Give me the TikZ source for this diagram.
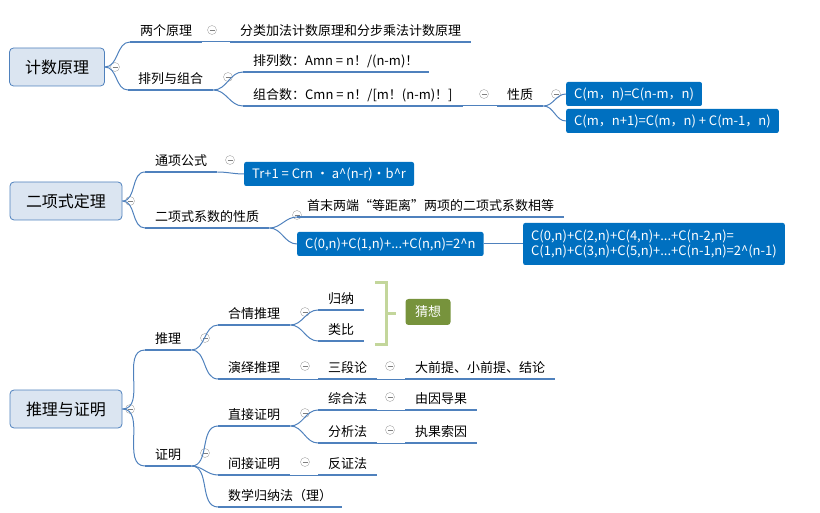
\documentclass[tikz,border=0pt]{standalone}
\usepackage{fontspec}
\setmainfont{Noto Sans CJK SC}
\definecolor{lineblue}{RGB}{79,129,189}
\definecolor{rootfill}{RGB}{219,229,241}
\definecolor{boxblue}{RGB}{0,112,192}
\definecolor{guessgreen}{RGB}{119,147,60}
\definecolor{bracketgreen}{RGB}{195,214,155}
\tikzset{
  rootbox/.style={draw=lineblue, fill=rootfill, thick, rounded corners=4pt, minimum height=38pt, font=\fontsize{16}{18}\selectfont},
  topic/.style={anchor=south west, inner xsep=10pt, inner ysep=3pt, text height=9pt, text depth=3pt, font=\fontsize{13}{15}\selectfont,
    append after command={(\tikzlastnode.south west) edge[uline] (\tikzlastnode.south east)}},
  uline/.style={draw=lineblue, line width=1.6pt},
  link/.style={draw=lineblue, line width=1pt},
  bbox/.style={anchor=west, fill=boxblue, text=white, rounded corners=2pt, inner xsep=8pt, minimum height=24pt, font=\fontsize{13}{15}\selectfont},
  fold/.style={circle, draw=gray!70, fill=white, minimum size=9pt, inner sep=0pt,
    path picture={\draw[gray] ([xshift=-2.5pt]path picture bounding box.center) -- ([xshift=2.5pt]path picture bounding box.center);}}
}
\begin{document}
\begin{tikzpicture}[x=1pt,y=-1pt]
\useasboundingbox (0,0) rectangle (820,513);

% counting
\node[rootbox, minimum width=95pt] (jishu) at (57,67) {计数原理};
\node[fold] (f1) at (115,67) {};
\node[topic] (liangge) at (130,42) {两个原理};
\node[fold] (f2) at (212,30) {};
\node[topic] (fenlei) at (230,42) {分类加法计数原理和分步乘法计数原理};
\node[topic] (pailie) at (128,90) {排列与组合};
\node[fold] (f3) at (228,77) {};
\node[topic] (pls) at (243,72) {排列数：Amn = n！/(n-m)！};
\node[topic] (zhs) at (243,106) {组合数：Cmn = n！/[m！(n-m)！]};
\node[fold] (f4) at (484,94) {};
\node[topic] (xingzhi) at (497,106) {性质};
\node[fold] (f5) at (556,94) {};
\node[bbox] (c1) at (566,94) {C(m，n)=C(n-m，n)};
\node[bbox] (c2) at (566,121) {C(m，n+1)=C(m，n) + C(m-1，n)};
\draw[link] (jishu.east) to[out=0,in=180] (liangge.south west);
\draw[link] (jishu.east) to[out=0,in=180] (pailie.south west);
\draw[link] (liangge.south east) -- (fenlei.south west);
\draw[link] (pailie.south east) to[out=0,in=180] (pls.south west);
\draw[link] (pailie.south east) to[out=0,in=180] (zhs.south west);
\draw[link] (zhs.south east) -- (xingzhi.south west);
\draw[link] (xingzhi.south east) to[out=0,in=180] (c1.west);
\draw[link] (xingzhi.south east) to[out=0,in=180] (c2.west);

% binomial
\node[rootbox, minimum width=112pt] (erxiang) at (66,201) {二项式定理};
\node[fold] (f6) at (130,201) {};
\node[topic] (tongxiang) at (145,172) {通项公式};
\node[fold] (f7) at (230,160) {};
\node[bbox] (tr) at (244,174) {Tr+1 = Crn · a\^{}(n-r)·b\^{}r};
\node[topic] (xishu) at (145,228) {二项式系数的性质};
\node[fold] (f8) at (297,215) {};
\node[topic] (shoumo) at (297,217) {首末两端“等距离”两项的二项式系数相等};
\node[bbox] (sum1) at (297,244) {C(0,n)+C(1,n)+...+C(n,n)=2\^{}n};
\node[bbox, align=left, minimum height=42pt] (sum2) at (523,244) {C(0,n)+C(2,n)+C(4,n)+...+C(n-2,n)=\\C(1,n)+C(3,n)+C(5,n)+...+C(n-1,n)=2\^{}(n-1)};
\draw[link] (erxiang.east) to[out=0,in=180] (tongxiang.south west);
\draw[link] (erxiang.east) to[out=0,in=180] (xishu.south west);
\draw[link] (tongxiang.south east) to[out=0,in=180] (tr.west);
\draw[link] (xishu.south east) to[out=0,in=180] (shoumo.south west);
\draw[link] (xishu.south east) to[out=0,in=180] (sum1.west);
\draw[link] (sum1.east) -- (sum2.west);

% reasoning and proof
\node[rootbox, minimum width=112pt] (tuili) at (66,409) {推理与证明};
\node[fold] (f9) at (130,409) {};
\node[topic] (tl) at (145,350) {推理};
\node[fold] (f10) at (205,338) {};
\node[topic] (hq) at (218,325) {合情推理};
\node[fold] (f11) at (305,312) {};
\node[topic] (gn) at (318,310) {归纳};
\node[topic] (lb) at (318,341) {类比};
\draw[bracketgreen, line width=3pt] (375,283) -- (386,283) -- (386,345) -- (375,345) (386,314) -- (396,314);
\node[fill=guessgreen, text=white, rounded corners=3pt, minimum width=45pt, minimum height=26pt, font=\fontsize{13}{15}\selectfont\itshape] (caixiang) at (428,312) {猜想};
\node[topic] (yy) at (218,379) {演绎推理};
\node[fold] (f12) at (305,366) {};
\node[topic] (sdl) at (318,379) {三段论};
\node[fold] (f13) at (390,366) {};
\node[topic] (dqt) at (405,379) {大前提、小前提、结论};
\node[topic] (zm) at (145,466) {证明};
\node[fold] (f14) at (205,453) {};
\node[topic] (zj) at (218,426) {直接证明};
\node[fold] (f15) at (305,413) {};
\node[topic] (zh) at (318,410) {综合法};
\node[fold] (f16) at (390,397) {};
\node[topic] (yy2) at (405,410) {由因导果};
\node[topic] (fx) at (318,443) {分析法};
\node[fold] (f17) at (390,430) {};
\node[topic] (zg) at (405,443) {执果索因};
\node[topic] (jj) at (218,475) {间接证明};
\node[fold] (f18) at (305,462) {};
\node[topic] (fz) at (318,475) {反证法};
\node[topic] (sx) at (218,507) {数学归纳法（理）};
\draw[link] (tuili.east) to[out=0,in=180] (tl.south west);
\draw[link] (tuili.east) to[out=0,in=180] (zm.south west);
\draw[link] (tl.south east) to[out=0,in=180] (hq.south west);
\draw[link] (tl.south east) to[out=0,in=180] (yy.south west);
\draw[link] (hq.south east) to[out=0,in=180] (gn.south west);
\draw[link] (hq.south east) to[out=0,in=180] (lb.south west);
\draw[link] (yy.south east) -- (sdl.south west);
\draw[link] (sdl.south east) -- (dqt.south west);
\draw[link] (zm.south east) to[out=0,in=180] (zj.south west);
\draw[link] (zm.south east) to[out=0,in=180] (jj.south west);
\draw[link] (zm.south east) to[out=0,in=180] (sx.south west);
\draw[link] (zj.south east) to[out=0,in=180] (zh.south west);
\draw[link] (zj.south east) to[out=0,in=180] (fx.south west);
\draw[link] (zh.south east) -- (yy2.south west);
\draw[link] (fx.south east) -- (zg.south west);
\draw[link] (jj.south east) -- (fz.south west);
\end{tikzpicture}
\end{document}
